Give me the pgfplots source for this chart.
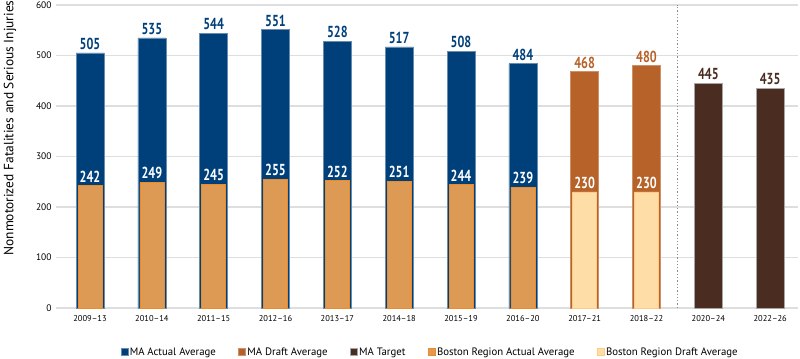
\documentclass[border=0pt]{standalone}
\usepackage{pgfplots}
\pgfplotsset{compat=1.18}
\usepackage{fontspec}
\setmainfont{PT Sans}
\newfontfamily\valfont[FakeStretch=0.76]{PT Sans}
\definecolor{maBlue}{RGB}{0,64,122}
\definecolor{maDraft}{RGB}{182,98,40}
\definecolor{maTarget}{RGB}{74,45,32}
\definecolor{bosAct}{RGB}{220,154,84}
\definecolor{bosDraft}{RGB}{254,221,166}
\pgfplotsset{
  mybar/.style={ybar, bar shift=0pt,
    legend image code/.code={\draw[##1, line width=0.5bp] (0bp,-3.5bp) rectangle (7bp,3.5bp);}},
  vallab/.style={nodes near coords, nodes near coords style={font=\valfont\bfseries\fontsize{16}{18}\selectfont, text=#1, anchor=south, inner sep=0pt, yshift=3bp}},
}
\begin{document}
\begin{tikzpicture}
\begin{axis}[
  at={(0,0)}, anchor=south west,
  scale only axis, width=742bp, height=303bp,
  xmin=-0.55, xmax=11.45, ymin=0, ymax=600,
  ytick={0,100,...,600},
  xtick={0,...,11},
  xticklabels={2009--13,2010--14,2011--15,2012--16,2013--17,2014--18,2015--19,2016--20,2017--21,2018--22,2020--24,2022--26},
  ymajorgrids, major grid style={draw=black!13, line width=1.2bp},
  axis line style={draw=none},
  tick style={draw=none},
  /pgf/number format/assume math mode=true,
  x tick label style={font=\fontsize{8.5}{10}\selectfont, yshift=-4bp},
  y tick label style={font=\fontsize{9.5}{11}\selectfont, xshift=-1bp},
  ylabel={Nonmotorized Fatalities and Serious Injuries},
  ylabel style={font=\fontsize{13.5}{15}\selectfont, at={(axis description cs:-0.062,0.594)}, anchor=center},
  legend columns=-1,
  legend style={at={(0.504,-0.145)}, anchor=center, draw=none, fill=none,
    font=\fontsize{10.8}{12}\selectfont,
    /tikz/every even column/.append style={column sep=21bp},
    nodes={inner sep=1.5bp}},
]
\addplot[mybar, bar width=28bp, fill=maBlue, draw=maBlue!60!white, line width=0.5bp, vallab=maBlue]
  coordinates {(0,505)(1,535)(2,544)(3,551)(4,528)(5,517)(6,508)(7,484)};
\addlegendentry{MA Actual Average}
\addplot[mybar, bar width=28bp, fill=maDraft, draw=maDraft!70!white, line width=0.5bp, vallab=maDraft]
  coordinates {(8,468)(9,480)};
\addlegendentry{MA Draft Average}
\addplot[mybar, bar width=28bp, fill=maTarget, draw=black!35, line width=0.5bp, vallab=maTarget]
  coordinates {(10,445)(11,435)};
\addlegendentry{MA Target}
\addplot[mybar, bar width=24bp, fill=bosAct, draw=orange!60!bosAct, line width=0.6bp, vallab=white]
  coordinates {(0,242)(1,249)(2,245)(3,255)(4,252)(5,251)(6,244)(7,239)};
\addlegendentry{Boston Region Actual Average}
\addplot[mybar, bar width=24bp, fill=bosDraft, draw=bosDraft!80!orange, line width=0.6bp, vallab=white]
  coordinates {(8,230)(9,230)};
\addlegendentry{Boston Region Draft Average}
\addplot[forget plot, dotted, draw=black!45, line width=1.3bp] coordinates {(9.5,0)(9.5,600)};
\end{axis}
\pgfresetboundingbox
\path[use as bounding box] (-56bp,-51bp) rectangle (744bp,308bp);
\end{tikzpicture}
\end{document}
